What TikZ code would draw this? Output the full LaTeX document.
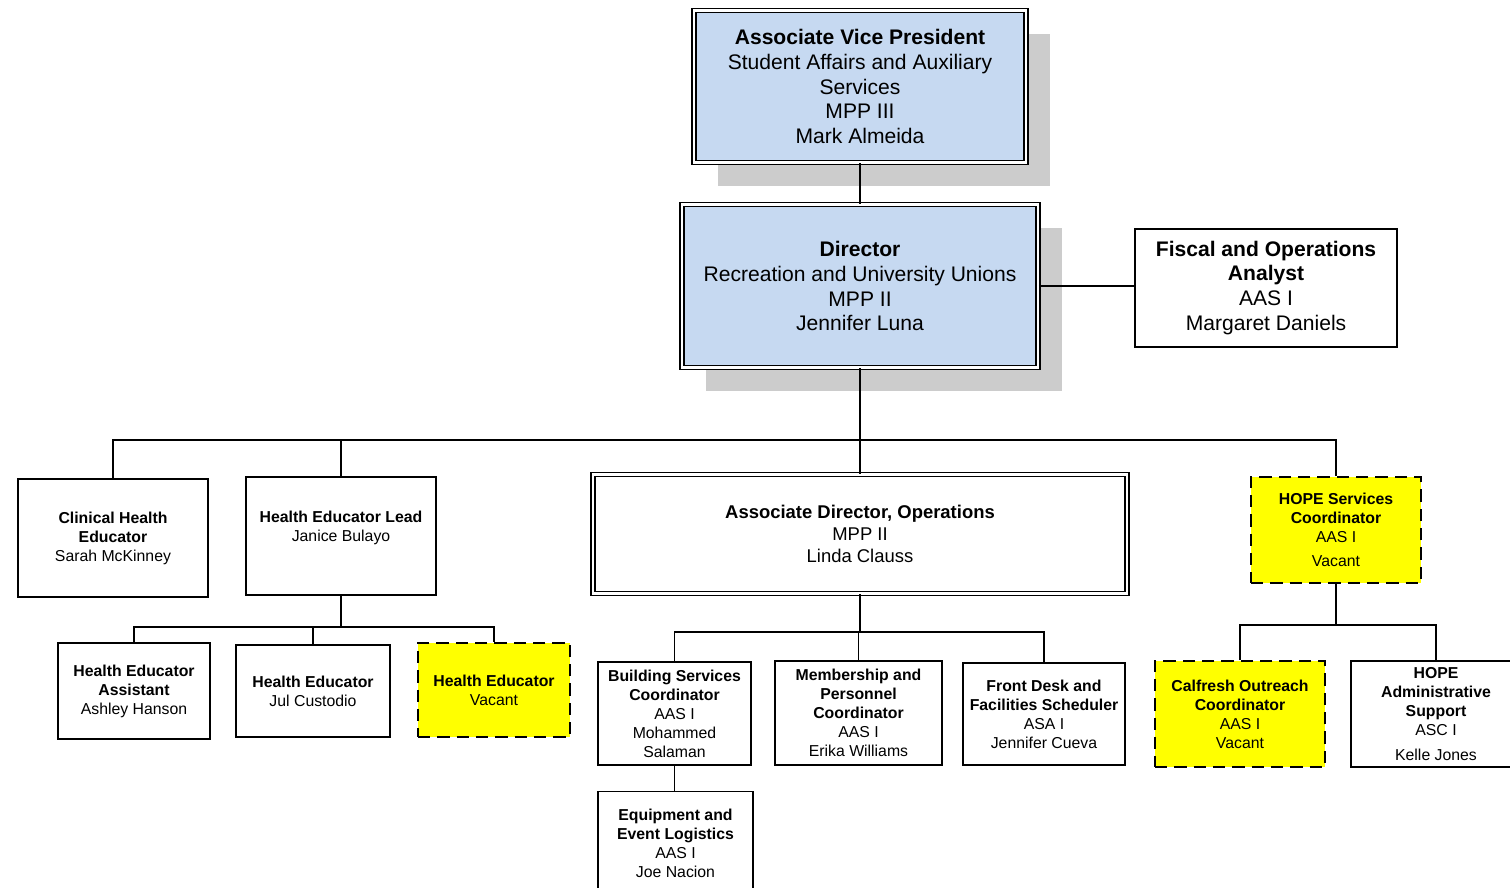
\documentclass[tikz,border=0pt]{standalone}
\usepackage{fontspec}
\setmainfont{Liberation Sans}
\usetikzlibrary{shadows}

\definecolor{boxblue}{RGB}{198,217,241}
\definecolor{vacantyellow}{RGB}{255,255,0}
\definecolor{shadegray}{RGB}{204,204,204}

\tikzset{
  post/.style={draw, line width=1.1pt, inner sep=2pt, align=center, fill=white},
  bigpost/.style={post, font=\fontsize{12}{14.2}\selectfont},
  smallpost/.style={post, font=\fontsize{9}{10.8}\selectfont},
  headpost/.style={bigpost, fill=boxblue, line width=0.9pt, double, double distance=1.2pt,
    drop shadow={shadow xshift=0.48cm, shadow yshift=-0.47cm, fill=shadegray, opacity=1}},
  vacantpost/.style={smallpost, fill=vacantyellow, dash pattern=on 7pt off 4pt},
  link/.style={line width=1.1pt},
}

\begin{document}
\begin{tikzpicture}[x=0.02cm,y=-0.02cm]
\useasboundingbox (0,0) rectangle (1510,887);

% top of the chart
\node[headpost, minimum width=6.64cm, minimum height=3.04cm] (avp) at (860,86.5)
  {\textbf{Associate Vice President}\\Student Affairs and Auxiliary\\Services\\MPP III\\Mark Almeida};
\node[headpost, minimum width=7.12cm, minimum height=3.26cm] (dir) at (860,286)
  {\textbf{Director}\\Recreation and University Unions\\MPP II\\Jennifer Luna};
\node[bigpost, minimum width=5.24cm, minimum height=2.36cm] (fis) at (1266,288)
  {\textbf{Fiscal and Operations}\\\textbf{Analyst}\\AAS I\\Margaret Daniels};

% second row
\node[smallpost, minimum width=3.8cm, minimum height=2.36cm] (che) at (113,538)
  {\textbf{Clinical Health}\\\textbf{Educator}\\Sarah McKinney};
\node[smallpost, minimum width=3.8cm, minimum height=2.36cm] (hel) at (341,536)
  {\textbf{Health Educator Lead}\\Janice Bulayo\\\mbox{}};
\node[bigpost, font=\fontsize{10.5}{12.5}\selectfont, line width=0.9pt, double, double distance=1.2pt,
  minimum width=10.68cm, minimum height=2.38cm] (ad) at (860,534)
  {\textbf{Associate Director, Operations}\\MPP II\\Linda Clauss};
\node[vacantpost, minimum width=3.4cm, minimum height=2.12cm] (hope) at (1336,530)
  {\textbf{HOPE Services}\\\textbf{Coordinator}\\AAS I\\[3pt]Vacant};

% health educators
\node[smallpost, minimum width=3.04cm, minimum height=1.92cm] (hea) at (134,691)
  {\textbf{Health Educator}\\\textbf{Assistant}\\Ashley Hanson};
\node[smallpost, minimum width=3.08cm, minimum height=1.84cm] (hej) at (313,691)
  {\textbf{Health Educator}\\Jul Custodio};
\node[vacantpost, minimum width=3.04cm, minimum height=1.88cm] (hev) at (494,690)
  {\textbf{Health Educator}\\Vacant};

% operations
\node[smallpost, minimum width=3.06cm, minimum height=2.06cm] (bsc) at (674.5,713.5)
  {\textbf{Building Services}\\\textbf{Coordinator}\\AAS I\\Mohammed\\Salaman};
\node[smallpost, minimum width=3.34cm, minimum height=2.08cm] (mpc) at (858.5,713)
  {\textbf{Membership and}\\\textbf{Personnel}\\\textbf{Coordinator}\\AAS I\\Erika Williams};
\node[smallpost, minimum width=3.24cm, minimum height=2.04cm] (fdf) at (1044,714)
  {\textbf{Front Desk and}\\\textbf{Facilities Scheduler}\\ASA I\\Jennifer Cueva};
\node[smallpost, minimum width=3.1cm, minimum height=2.06cm] (eel) at (675.5,843)
  {\textbf{Equipment and}\\\textbf{Event Logistics}\\AAS I\\Joe Nacion};

% HOPE
\node[vacantpost, minimum width=3.4cm, minimum height=2.12cm] (cal) at (1240,714)
  {\textbf{Calfresh Outreach}\\\textbf{Coordinator}\\AAS I\\Vacant};
\node[smallpost, minimum width=3.4cm, minimum height=2.12cm] (adm) at (1436,714)
  {\textbf{HOPE}\\\textbf{Administrative}\\\textbf{Support}\\ASC I\\[3pt]Kelle Jones};

% connectors
\coordinate (bus) at (860,440);
\coordinate (helbus) at (341,627);
\coordinate (adbus) at (860,632);
\coordinate (hopebus) at (1336,625);

\draw[link] (avp.south) -- (dir.north);
\draw[link] (dir.east) -- (dir.east -| fis.west);
\draw[link] (dir.south) -- (ad.north);
\draw[link] (che.north) |- (bus) -| (hope.north);
\draw[link] (hel.north) -- (hel.north |- bus);

\draw[link] (hel.south) -- (helbus);
\draw[link] (hea.north) |- (helbus) -| (hev.north);
\draw[link] (hej.north) -- (hej.north |- helbus);

\draw[link] (ad.south) -- (adbus);
\draw[link] (bsc.north) |- (adbus) -| (fdf.north);
\draw[link] (mpc.north) -- (mpc.north |- adbus);
\draw[link] (bsc.south) -- (bsc.south |- eel.north);

\draw[link] (hope.south) -- (hopebus);
\draw[link] (cal.north) |- (hopebus) -| (adm.north);

\end{tikzpicture}
\end{document}
